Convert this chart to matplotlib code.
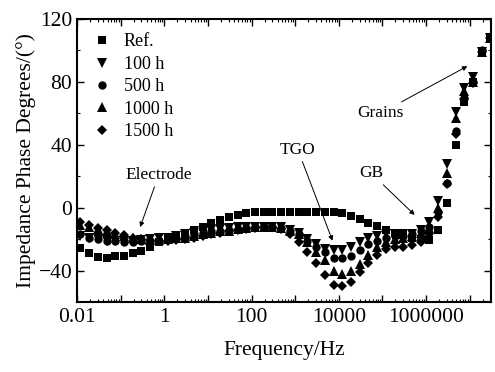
import matplotlib
matplotlib.use('Agg')
import matplotlib.pyplot as plt
from matplotlib.ticker import LogLocator, FixedLocator, MultipleLocator, FuncFormatter

# frequency points (Hz), 5 per decade
freq = [0.012, 0.019, 0.030, 0.048, 0.076, 0.12, 0.19, 0.30, 0.48, 0.76,
        1.2, 1.9, 3.0, 4.8, 7.6, 12, 19, 30, 48, 76,
        120, 191, 302, 479, 759, 1202, 1905, 3020, 4786, 7586,
        12023, 19055, 30200, 47863, 75858, 120226, 190546, 301995, 478630, 758578,
        1.2e6, 1.9e6, 3.0e6, 4.8e6, 7.6e6, 1.2e7, 1.9e7, 3.0e7]

ref = [-25.5, -29, -31.5, -32, -31, -31, -29, -27.5, -25, -22,
       -20, -18, -16, -14, -12, -10, -8, -6, -4.6, -3.6,
       -3, -2.7, -2.5, -2.5, -2.5, -2.5, -2.5, -2.5, -2.5, -2.5,
       -3.4, -5.5, -7.3, -9.5, -11.7, -14, -16, -17.5, -19, -20,
       -20.5, -14, 3, 40, 67, 80, 99, 108]

h100 = [-18, -19, -20, -21, -21, -21, -21, -20.5, -20, -19.5,
        -19, -18, -17, -16, -15, -14, -13.5, -13, -12.5, -12,
        -12, -12, -12, -12.5, -14, -16, -20, -23, -26, -27,
        -27, -25, -22, -19, -18, -17, -17, -17, -16.5, -14,
        -9, 4.5, 28, 61, 76, 83, 99, 108]

h500 = [-17, -19, -20, -21, -21, -21.5, -21.5, -21, -21, -21,
        -20, -19, -18, -17, -16, -15, -14.5, -14, -13.5, -13,
        -12.5, -12.5, -12.5, -13, -15, -17, -21, -25, -28, -32,
        -32, -31, -27, -23, -21, -19, -18, -18, -17, -15,
        -12, -3, 16, 49, 70, 80, 100, 108]

h1000 = [-11, -12, -13.5, -15, -16.5, -18, -19, -20, -20.5, -20.5,
         -20, -19.5, -19, -18, -17, -16, -15, -14.5, -13.5, -13,
         -12.5, -12, -12, -13, -15, -17, -22, -28, -33, -40,
         -42, -40, -36, -30, -25, -22, -20, -19, -18, -16,
         -13, 0, 22, 57, 74, 80, 99, 108]

h1500 = [-9, -11, -13, -14, -16, -17.5, -19, -20, -20.5, -21,
         -21, -20.5, -20, -19, -18, -17, -16, -15, -14, -13.5,
         -13, -12.5, -12.5, -13.5, -17, -21.6, -28, -35, -43, -49,
         -50, -47, -41, -35, -30, -26, -25, -25, -24, -22,
         -17, -6, 15, 47, 69, 79, 99, 108]

labels = ['Ref.', '100 h', '500 h', '1000 h', '1500 h']
markers = ['s', 'v', 'o', '^', 'D']
sizes = [5.5, 6.5, 6, 6.5, 5.2]

plt.rcParams['font.family'] = ['Liberation Serif', 'DejaVu Serif']

fig = plt.figure(figsize=(4.95, 3.72), dpi=100)
ax = fig.add_axes([0.1556, 0.188, 0.8364, 0.761])

for ys, lab, m, s in zip([ref, h100, h500, h1000, h1500], labels, markers, sizes):
    ax.plot(freq, ys, linestyle='none', marker=m, ms=s, color='black',
            markeredgewidth=0, label=lab)

ax.set_xscale('log')
ax.set_xlim(0.01, 3.1e7)
ax.set_ylim(-60, 120)

ax.xaxis.set_major_locator(LogLocator(base=10, numticks=20))
ax.xaxis.set_minor_locator(LogLocator(base=10, subs=range(2, 10), numticks=20))
shown = {0.01: '0.01', 1: '1', 100: '100', 1e4: '10000', 1e6: '1000000'}


def xfmt(v, pos):
    for k, t in shown.items():
        if abs(v / k - 1) < 1e-6:
            return t
    return ''


ax.xaxis.set_major_formatter(FuncFormatter(xfmt))
ax.yaxis.set_major_locator(FixedLocator([-40, 0, 40, 80, 120]))
ax.yaxis.set_minor_locator(MultipleLocator(20))

ax.tick_params(which='both', direction='in', top=True, right=True, labelsize=15.5)
ax.tick_params(which='major', length=5, width=1)
ax.tick_params(which='minor', length=2.5, width=0.8)
ax.tick_params(axis='x', which='major', pad=4)
for sp in ax.spines.values():
    sp.set_linewidth(1.5)

ax.set_xlabel('Frequency/Hz', fontsize=15.5, labelpad=10)
ax.set_ylabel('Impedance Phase Degrees/(°)', fontsize=15.5, labelpad=2)

leg = ax.legend(loc='upper left', frameon=False, fontsize=13, handletextpad=0.6,
                labelspacing=0.3, borderaxespad=0.4, handlelength=1.2)

arrow = dict(arrowstyle='-|>', lw=0.7, color='black', mutation_scale=7, shrinkA=1, shrinkB=0)
ax.annotate('Electrode', xy=(0.28, -12.3), xytext=(0.75, 21), ha='center', va='center',
            fontsize=12.5, arrowprops=arrow)
ax.annotate('TGO', xy=(7200, -21), xytext=(1150, 37), ha='center', va='center',
            fontsize=12.5, arrowprops=arrow)
ax.annotate('GB', xy=(550000, -4.6), xytext=(55000, 22), ha='center', va='center',
            fontsize=12.5, arrowprops=arrow)
ax.annotate('Grains', xy=(8.9e6, 90), xytext=(90000, 60), ha='center', va='center',
            fontsize=12.5, arrowprops=arrow)

fig.savefig('out.png', dpi=100)
